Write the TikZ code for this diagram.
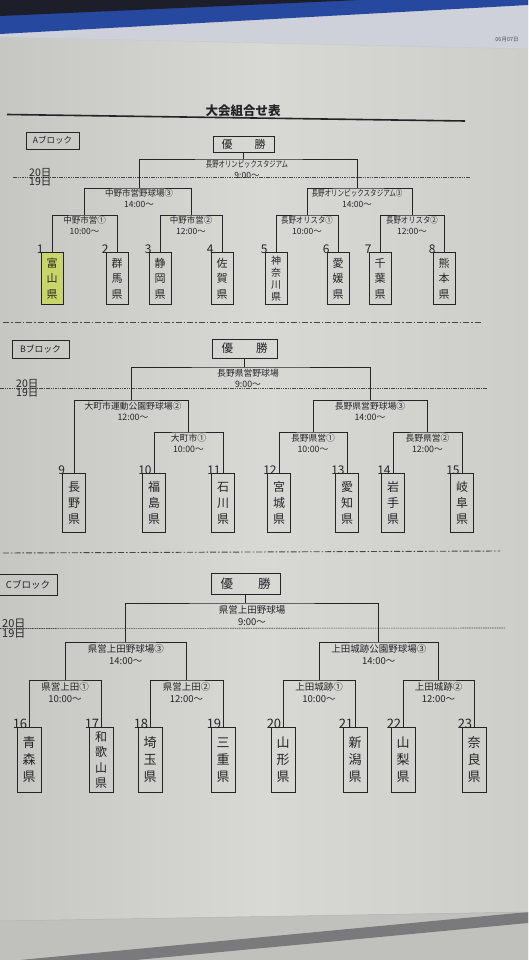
\documentclass[tikz,border=0pt]{standalone}
\usepackage{fontspec}
\setmainfont{Noto Sans CJK JP}
\usepackage{graphicx}
\usetikzlibrary{calc}
\definecolor{ink}{RGB}{36,36,40}
\definecolor{paperL}{RGB}{198,199,194}
\definecolor{paperM}{RGB}{216,216,213}
\definecolor{paperR}{RGB}{205,206,202}
\definecolor{hl}{RGB}{200,214,105}
\definecolor{sheet}{RGB}{206,208,218}
\definecolor{bandblue}{RGB}{38,72,158}
\definecolor{banddark}{RGB}{28,30,42}
\definecolor{floor}{RGB}{192,192,188}
\definecolor{strip}{RGB}{122,122,124}
\tikzset{
  ln/.style={draw=ink, line width=0.8pt},
  teambox/.style={draw=ink, line width=0.9pt, inner sep=0pt, align=center, anchor=north, text=ink},
  tA/.style={teambox, minimum width=22pt, minimum height=52pt, font=\fontsize{11}{15.5}\selectfont},
  tA4/.style={tA, font=\fontsize{10}{12}\selectfont},
  tB/.style={teambox, minimum width=23pt, minimum height=59pt, font=\fontsize{12}{16}\selectfont},
  tC/.style={teambox, minimum width=24pt, minimum height=65pt, font=\fontsize{13}{17}\selectfont},
  tC4/.style={tC, font=\fontsize{12}{15.5}\selectfont},
  numA/.style={anchor=base west, inner sep=0pt, text=ink, font=\fontsize{12}{12}\selectfont},
  numC/.style={numA, font=\fontsize{13}{13}\selectfont},
  vA/.style={anchor=north, align=center, inner sep=1.5pt, text=ink, font=\fontsize{8.5}{10.5}\selectfont},
  vB/.style={vA, font=\fontsize{8.8}{11}\selectfont},
  vC/.style={vA, inner sep=2pt, font=\fontsize{9.5}{12.5}\selectfont},
  winbox/.style={draw=ink, line width=0.9pt, inner sep=0pt, text=ink},
  blkbox/.style={draw=ink, line width=0.9pt, inner sep=0pt, text=ink},
  dayline/.style={draw=ink!85, line width=0.6pt, dash pattern=on 1.5pt off 0.8pt},
  daylbl/.style={inner sep=0pt, text=ink, font=\fontsize{10.5}{10.5}\selectfont},
  sepline/.style={draw=ink!85, line width=0.9pt, dash pattern=on 6pt off 2pt on 1.5pt off 2pt},
}
\newcommand\tnum[3]{\node[#1] (#2n) at ([xshift=-4pt,yshift=-1pt]#2.north west) {#3};}
\begin{document}
\begin{tikzpicture}[x=1pt,y=-1pt]
\useasboundingbox (0,0) rectangle (528,960);
% ---------- background (photo) ----------
\shade[left color=paperL, right color=paperR, middle color=paperM] (0,0) rectangle (528,960);
\fill[sheet] (0,0) -- (528,0) -- (528,49) -- (0,37) -- cycle;
\fill[bandblue] (0,14) -- (330,0) -- (528,0) -- (528,5) -- (0,34) -- cycle;
\fill[banddark] (0,0) -- (360,0) -- (0,16) -- cycle;
\draw[ink!25, line width=0.4pt] (0,37) -- (528,49);
\node[inner sep=0pt, text=ink!80, font=\fontsize{5.5}{5.5}\selectfont] (date) at (507,40) {06月07日};
\fill[floor] (0,921) -- (528,912) -- (528,960) -- (0,960) -- cycle;
\fill[strip] (20,960) -- (528,912) -- (528,923) -- (136,960) -- cycle;
\draw[ink!35, line width=0.5pt] (0,921) -- (528,912);
% ---------- title ----------
\node[anchor=south, inner sep=0pt, text=ink, font=\fontsize{12.5}{12.5}\selectfont\bfseries] (title) at (243,117) {大会組合せ表};
\draw[ink, line width=1.6pt] (7,114.5) -- (465,121);
% ================= A block =================
\node[blkbox, minimum width=53pt, minimum height=17pt, font=\fontsize{8.5}{8.5}\selectfont] (Ablk) at (52.5,140.5) {Aブロック};
\node[winbox, minimum width=61pt, minimum height=16pt, font=\fontsize{11}{11}\selectfont] (Awin) at (243.5,144) {優　　勝};
\draw[dayline] (13,177) -- (470,177);
\node[daylbl, anchor=south west] (A20) at (29,177) {20日};
\node[daylbl, anchor=north west] (A19) at (29,177.5) {19日};
\coordinate (AF) at (249,159);
\coordinate (AS1) at (139,188); \coordinate (AS2) at (357,188);
\coordinate (AQ1) at (84.5,215); \coordinate (AQ2) at (191,215);
\coordinate (AQ3) at (307,215); \coordinate (AQ4) at (412,215);
\node[tA, fill=hl] (t1) at (52,252) {富\\山\\県};
\node[tA] (t2) at (117,252) {群\\馬\\県};
\node[tA] (t3) at (160,252) {静\\岡\\県};
\node[tA] (t4) at (222,252) {佐\\賀\\県};
\node[tA4] (t5) at (276,252) {神\\奈\\川\\県};
\node[tA] (t6) at (338,252) {愛\\媛\\県};
\node[tA] (t7) at (380,252) {千\\葉\\県};
\node[tA] (t8) at (444,252) {熊\\本\\県};
\tnum{numA}{t1}{1}\tnum{numA}{t2}{2}\tnum{numA}{t3}{3}\tnum{numA}{t4}{4}
\tnum{numA}{t5}{5}\tnum{numA}{t6}{6}\tnum{numA}{t7}{7}\tnum{numA}{t8}{8}
\draw[ln] (t1.north) |- (AQ1) -| (t2.north);
\draw[ln] (t3.north) |- (AQ2) -| (t4.north);
\draw[ln] (t5.north) |- (AQ3) -| (t6.north);
\draw[ln] (t7.north) |- (AQ4) -| (t8.north);
\draw[ln] (AQ1) |- (AS1) -| (AQ2);
\draw[ln] (AQ3) |- (AS2) -| (AQ4);
\draw[ln] (AS1) |- (AF) -| (AS2);
\draw[ln] (Awin.south) -- (Awin.south |- AF);
\node[vA] (AFl) at (247,159) {\scalebox{0.75}[1]{長野オリンピックスタジアム}\\9:00～};
\node[vA] (AS1l) at (AS1) {中野市営野球場③\\14:00～};
\node[vA] (AS2l) at (AS2) {\scalebox{0.77}[1]{長野オリンピックスタジアム③}\\14:00～};
\node[vA] (AQ1l) at (AQ1) {中野市営①\\10:00～};
\node[vA] (AQ2l) at (AQ2) {中野市営②\\12:00～};
\node[vA] (AQ3l) at (AQ3) {\scalebox{0.87}[1]{長野オリスタ①}\\10:00～};
\node[vA] (AQ4l) at (AQ4) {\scalebox{0.87}[1]{長野オリスタ②}\\12:00～};
\draw[sepline] (3,322) -- (482,322);
% ================= B block =================
\node[blkbox, minimum width=57pt, minimum height=18pt, font=\fontsize{8.8}{8.8}\selectfont] (Bblk) at (40.5,349) {Bブロック};
\node[winbox, minimum width=65pt, minimum height=19pt, font=\fontsize{11.5}{11.5}\selectfont] (Bwin) at (244.5,348.5) {優　　勝};
\draw[dayline] (0,388) -- (487,388);
\node[daylbl, anchor=south west] (B20) at (16,388) {20日};
\node[daylbl, anchor=north west] (B19) at (16,388.5) {19日};
\coordinate (BF) at (250.5,367);
\coordinate (BS1) at (131,400); \coordinate (BS2) at (370,400);
\coordinate (BQ1) at (188.5,432); \coordinate (BQ2) at (313,432); \coordinate (BQ3) at (427.5,432);
\node[tB] (t9) at (74,473) {長\\野\\県};
\node[tB] (t10) at (154,473) {福\\島\\県};
\node[tB] (t11) at (223,473) {石\\川\\県};
\node[tB] (t12) at (279,473) {宮\\城\\県};
\node[tB] (t13) at (347,473) {愛\\知\\県};
\node[tB] (t14) at (393,473) {岩\\手\\県};
\node[tB] (t15) at (462,473) {岐\\阜\\県};
\tnum{numA}{t9}{9}\tnum{numA}{t10}{10}\tnum{numA}{t11}{11}\tnum{numA}{t12}{12}
\tnum{numA}{t13}{13}\tnum{numA}{t14}{14}\tnum{numA}{t15}{15}
\draw[ln] (t10.north) |- (BQ1) -| (t11.north);
\draw[ln] (t12.north) |- (BQ2) -| (t13.north);
\draw[ln] (t14.north) |- (BQ3) -| (t15.north);
\draw[ln] (t9.north) |- (BS1) -| (BQ1);
\draw[ln] (BQ2) |- (BS2) -| (BQ3);
\draw[ln] (BS1) |- (BF) -| (BS2);
\draw[ln] (Bwin.south) -- (Bwin.south |- BF);
\node[vB] (BFl) at (248,367) {長野県営野球場\\9:00～};
\node[vB] (BS1l) at (133,400) {大町市運動公園野球場②\\12:00～};
\node[vB] (BS2l) at (BS2) {長野県営野球場③\\14:00～};
\node[vB] (BQ1l) at (BQ1) {大町市①\\10:00～};
\node[vB] (BQ2l) at (BQ2) {長野県営①\\10:00～};
\node[vB] (BQ3l) at (BQ3) {長野県営②\\12:00～};
\draw[sepline] (3,553) -- (500,551);
% ================= C block =================
\node[blkbox, minimum width=58pt, minimum height=21pt, font=\fontsize{9.5}{9.5}\selectfont] (Cblk) at (28,584.5) {Cブロック};
\node[winbox, minimum width=69pt, minimum height=21pt, font=\fontsize{12.5}{12.5}\selectfont] (Cwin) at (245.5,583.5) {優　　勝};
\draw[dayline] (0,628.5) -- (505,628);
\node[daylbl, anchor=south west, font=\fontsize{11}{11}\selectfont] (C20) at (2,628.5) {20日};
\node[daylbl, anchor=north west, font=\fontsize{11}{11}\selectfont] (C19) at (2,629) {19日};
\coordinate (CF) at (252,603);
\coordinate (CS1) at (125.75,642); \coordinate (CS2) at (378.75,642);
\coordinate (CQ1) at (65,680); \coordinate (CQ2) at (186.5,680);
\coordinate (CQ3) at (319,680); \coordinate (CQ4) at (438.5,680);
\node[tC] (t16) at (29,727) {青\\森\\県};
\node[tC4] (t17) at (101,727) {和\\歌\\山\\県};
\node[tC] (t18) at (150,727) {埼\\玉\\県};
\node[tC] (t19) at (223,727) {三\\重\\県};
\node[tC] (t20) at (283,727) {山\\形\\県};
\node[tC] (t21) at (355,727) {新\\潟\\県};
\node[tC] (t22) at (403,727) {山\\梨\\県};
\node[tC] (t23) at (474,727) {奈\\良\\県};
\tnum{numC}{t16}{16}\tnum{numC}{t17}{17}\tnum{numC}{t18}{18}\tnum{numC}{t19}{19}
\tnum{numC}{t20}{20}\tnum{numC}{t21}{21}\tnum{numC}{t22}{22}\tnum{numC}{t23}{23}
\draw[ln] (t16.north) |- (CQ1) -| (t17.north);
\draw[ln] (t18.north) |- (CQ2) -| (t19.north);
\draw[ln] (t20.north) |- (CQ3) -| (t21.north);
\draw[ln] (t22.north) |- (CQ4) -| (t23.north);
\draw[ln] (CQ1) |- (CS1) -| (CQ2);
\draw[ln] (CQ3) |- (CS2) -| (CQ4);
\draw[ln] (CS1) |- (CF) -| (CS2);
\draw[ln] (Cwin.south) -- (Cwin.south |- CF);
\node[vC] (CFl) at (CF) {県営上田野球場\\9:00～};
\node[vC] (CS1l) at (CS1) {県営上田野球場③\\14:00～};
\node[vC] (CS2l) at (CS2) {上田城跡公園野球場③\\14:00～};
\node[vC] (CQ1l) at (CQ1) {県営上田①\\10:00～};
\node[vC] (CQ2l) at (CQ2) {県営上田②\\12:00～};
\node[vC] (CQ3l) at (CQ3) {上田城跡①\\10:00～};
\node[vC] (CQ4l) at (CQ4) {上田城跡②\\12:00～};
\end{tikzpicture}
\end{document}
